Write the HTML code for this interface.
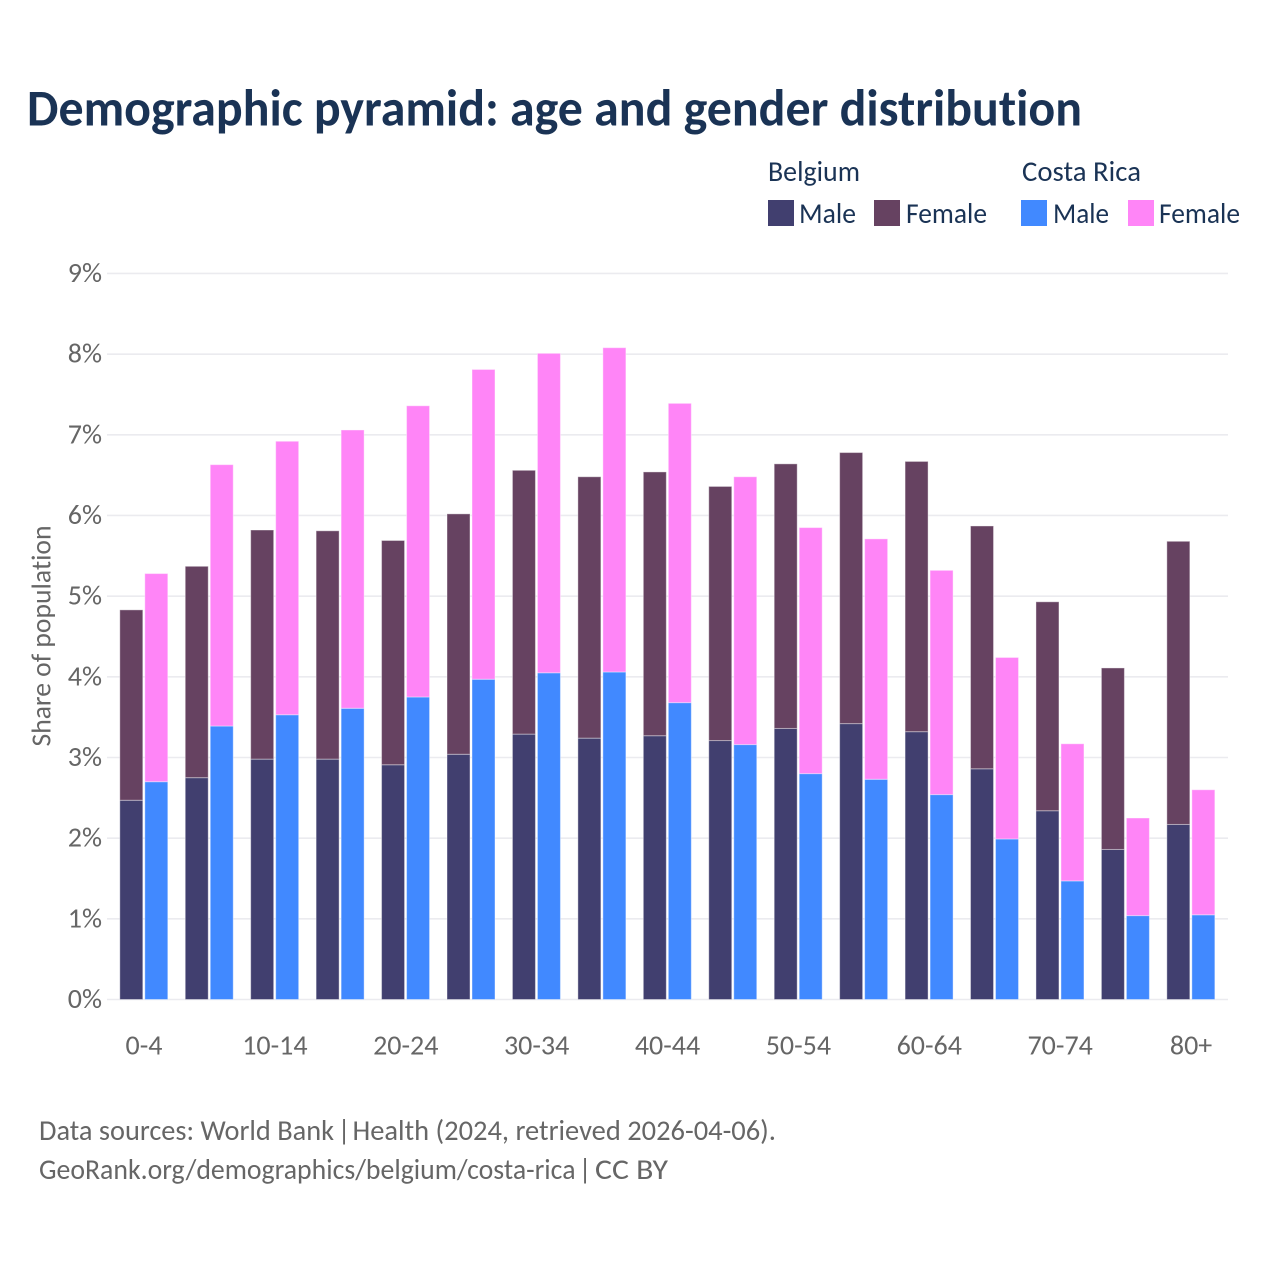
<!DOCTYPE html>
<html lang="en">
<head>
<meta charset="utf-8">
<title>Demographic pyramid: age and gender distribution</title>
<style>
html,body{margin:0;padding:0;background:#fff;width:1280px;height:1280px;overflow:hidden}
svg{display:block}
text{font-family:"Carlito","Lato","Liberation Sans",sans-serif;font-variant-ligatures:none}
.tick{font-size:28px;fill:#666666}
.leg{font-size:29px;fill:#1a3355}
.foot{font-size:28.5px;fill:#666666}
</style>
</head>
<body>
<svg id="chart" xmlns="http://www.w3.org/2000/svg" width="1280" height="1280" viewBox="0 0 1280 1280">
  <rect x="0" y="0" width="1280" height="1280" fill="#ffffff"/>
  <text x="27" y="125.5" font-size="52" font-weight="700" fill="#1a3355" textLength="1055" lengthAdjust="spacingAndGlyphs">Demographic pyramid: age and gender distribution</text>
  <g>
    <text class="leg" x="768" y="181" textLength="92" lengthAdjust="spacingAndGlyphs">Belgium</text>
    <rect x="768" y="200" width="26" height="26" fill="#413f6f"/>
    <text class="leg" x="799" y="223" textLength="57" lengthAdjust="spacingAndGlyphs">Male</text>
    <rect x="874" y="200" width="26" height="26" fill="#664261"/>
    <text class="leg" x="906" y="223" textLength="81" lengthAdjust="spacingAndGlyphs">Female</text>
    <text class="leg" x="1022" y="181" textLength="119" lengthAdjust="spacingAndGlyphs">Costa Rica</text>
    <rect x="1021" y="200" width="26" height="26" fill="#4189ff"/>
    <text class="leg" x="1053" y="223" textLength="56" lengthAdjust="spacingAndGlyphs">Male</text>
    <rect x="1128" y="200" width="26" height="26" fill="#ff85f7"/>
    <text class="leg" x="1159" y="223" textLength="81" lengthAdjust="spacingAndGlyphs">Female</text>
  </g>
  <g id="grid"></g>
  <g id="yticks"></g>
  <g id="bars"></g>
  <g id="xticks"></g>
  <text class="tick" transform="translate(50.5,636) rotate(-90)" text-anchor="middle" textLength="221" lengthAdjust="spacingAndGlyphs">Share of population</text>
  <g>
    <text class="foot" x="39" y="1140" textLength="295" lengthAdjust="spacingAndGlyphs">Data sources: World Bank</text>
    <text class="foot" x="337.5" y="1140">|</text>
    <text class="foot" x="352.5" y="1140" textLength="423.5" lengthAdjust="spacingAndGlyphs">Health (2024, retrieved 2026-04-06).</text>
  </g>
  <g>
    <text class="foot" x="39" y="1179" textLength="536.5" lengthAdjust="spacingAndGlyphs">GeoRank.org/demographics/belgium/costa-rica</text>
    <text class="foot" x="578.5" y="1179">|</text>
    <text class="foot" x="595" y="1179" textLength="73" lengthAdjust="spacingAndGlyphs">CC BY</text>
  </g>
</svg>
<script>
var categories = ["0-4","5-9","10-14","15-19","20-24","25-29","30-34","35-39","40-44","45-49","50-54","55-59","60-64","65-69","70-74","75-79","80+"];
var belgiumMale = [2.47,2.75,2.98,2.98,2.91,3.04,3.29,3.24,3.27,3.21,3.36,3.42,3.32,2.86,2.34,1.86,2.17];
var belgiumFemale = [2.36,2.62,2.84,2.83,2.78,2.98,3.27,3.24,3.27,3.15,3.28,3.36,3.35,3.01,2.59,2.25,3.51];
var costaRicaMale = [2.70,3.39,3.53,3.61,3.75,3.97,4.05,4.06,3.68,3.16,2.80,2.73,2.54,1.99,1.47,1.04,1.05];
var costaRicaFemale = [2.58,3.24,3.39,3.45,3.61,3.84,3.96,4.02,3.71,3.32,3.05,2.98,2.78,2.25,1.70,1.21,1.55];
var yTickValues = [0,1,2,3,4,5,6,7,8,9];

var NS = 'http://www.w3.org/2000/svg';
function yScale(v){ return 999.5 - v * 80.67; }
function xCenter(i){ return 144 + i * 65.44; }

var grid = document.getElementById('grid');
var yticks = document.getElementById('yticks');
yTickValues.forEach(function(v){
  var line = document.createElementNS(NS,'line');
  
  
  line.setAttribute('x1', 107);
  line.setAttribute('x2', 1228);
  line.setAttribute('y1', yScale(v));
  line.setAttribute('y2', yScale(v));
  line.setAttribute('stroke', '#ebebef');
  line.setAttribute('stroke-width', 1.6);
  grid.appendChild(line);
  var t = document.createElementNS(NS,'text');
  
  
  t.setAttribute('class', 'tick');
  t.setAttribute('x', 102);
  t.setAttribute('y', yScale(v) + 8.5);
  t.setAttribute('text-anchor', 'end');
  t.textContent = v + '%';
  yticks.appendChild(t);
});

var bars = document.getElementById('bars');
function addBar(name, x, v0, v1, color){
  var r = document.createElementNS(NS,'rect');
  
  
  r.setAttribute('x', x);
  r.setAttribute('width', 23);
  r.setAttribute('y', yScale(v1));
  r.setAttribute('height', yScale(v0) - yScale(v1));
  r.setAttribute('fill', color);
  r.setAttribute('stroke', 'rgba(255,255,255,0.4)');
  r.setAttribute('stroke-width', 1);
  bars.appendChild(r);
}
var xticks = document.getElementById('xticks');
categories.forEach(function(c,i){
  var cx = xCenter(i);
  addBar('bar-belgium-male-' + c, cx - 24.2, 0, belgiumMale[i], '#413f6f');
  addBar('bar-belgium-female-' + c, cx - 24.2, belgiumMale[i], belgiumMale[i] + belgiumFemale[i], '#664261');
  addBar('bar-costa-rica-male-' + c, cx + 0.8, 0, costaRicaMale[i], '#4189ff');
  addBar('bar-costa-rica-female-' + c, cx + 0.8, costaRicaMale[i], costaRicaMale[i] + costaRicaFemale[i], '#ff85f7');
  if (i % 2 === 0) {
    var t = document.createElementNS(NS,'text');
    
    
    t.setAttribute('class', 'tick');
    t.setAttribute('x', cx);
    t.setAttribute('y', 1054.5);
    t.setAttribute('text-anchor', 'middle');
    t.textContent = c;
    xticks.appendChild(t);
  }
});
</script>
</body>
</html>
